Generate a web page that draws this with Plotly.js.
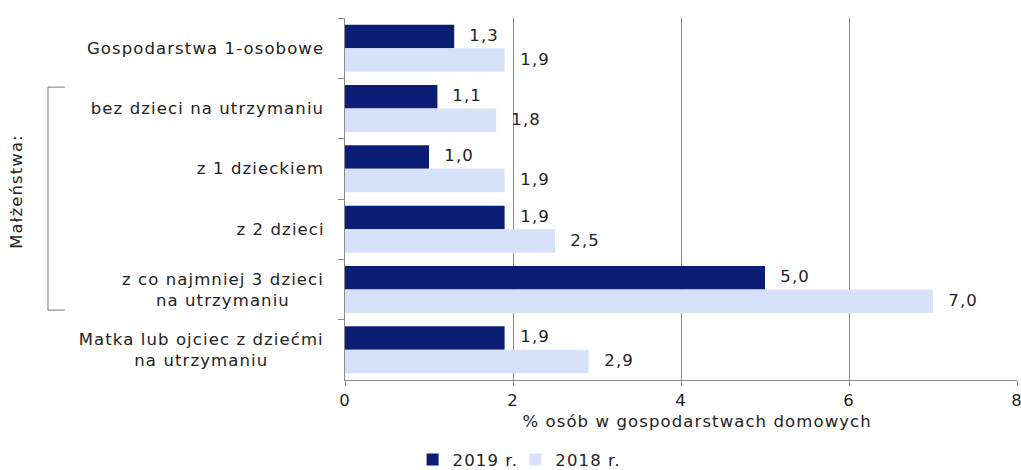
<!DOCTYPE html>
<html><head><meta charset="utf-8">
<script src="https://cdn.plot.ly/plotly-3.0.1.min.js"></script>
<style>body{margin:0;background:#fff}#c{width:1021px;height:470px}#c text{letter-spacing:1.1px}</style>
</head><body><div id="c"></div>
<script>
var categories = ["Gospodarstwa 1-osobowe","bez dzieci na utrzymaniu","z 1 dzieckiem","z 2 dzieci","z co najmniej 3 dzieci<br>na utrzymaniu","Matka lub ojciec z dziećmi<br>na utrzymaniu"];
var catKeys = ["c1","c2","c3","c4","c5","c6"];
var v2019 = [1.3,1.1,1.0,1.9,5.0,1.9];
var v2018 = [1.9,1.8,1.9,2.5,7.0,2.9];
var seriesNames = ["2019 r.","2018 r."];
var xTicks = [0,2,4,6,8];
var groupLabel = "Małżeństwa:";
var xTitle = "% osób w gospodarstwach domowych";

var FONT = "DejaVu Sans, sans-serif";
var FS = 16.5;
var LS = 1.1;
var fmt = function(v){return v.toFixed(1).replace(".",",");};
// letter-spacing is not measured by Plotly; compensate the centred overflow
var overflow = function(s){var m=0;s.split("<br>").forEach(function(l){m=Math.max(m,l.length);});return m*LS/2-LS;};

var t1 = {type:"bar",orientation:"h",name:seriesNames[0],y:catKeys,x:v2019,marker:{color:"#0b1d75"},hoverinfo:"x"};
var t2 = {type:"bar",orientation:"h",name:seriesNames[1],y:catKeys,x:v2018,marker:{color:"#d8e1fa"},hoverinfo:"x"};

var ann = [];
categories.forEach(function(c,i){
  ann.push({xref:"paper",yref:"y",x:0,y:catKeys[i],text:c,showarrow:false,xanchor:"right",xshift:-20-overflow(c),align:"center",font:{family:FONT,size:FS,color:"#222"}});
});
v2019.forEach(function(v,i){
  ann.push({xref:"x",yref:"y",x:v,y:catKeys[i],text:fmt(v),showarrow:false,xanchor:"left",xshift:15,yshift:13,font:{family:FONT,size:FS,color:"#222"}});
});
v2018.forEach(function(v,i){
  ann.push({xref:"x",yref:"y",x:v,y:catKeys[i],text:fmt(v),showarrow:false,xanchor:"left",xshift:15,yshift:-11,font:{family:FONT,size:FS,color:"#222"}});
});
ann.push({xref:"paper",yref:"paper",x:-0.488,xanchor:"center",y:0.52,yanchor:"middle",text:groupLabel,textangle:-90,showarrow:false,font:{family:FONT,size:FS,color:"#222"}});
ann.push({xref:"paper",yref:"paper",x:0.524,xanchor:"center",y:-0.115,yanchor:"middle",text:xTitle,showarrow:false,font:{family:FONT,size:FS,color:"#222"}});

var shapes = [
  {type:"line",xref:"paper",yref:"paper",x0:-0.442,x1:-0.442,y0:0.809,y1:0.193,line:{color:"#777",width:1}},
  {type:"line",xref:"paper",yref:"paper",x0:-0.442,x1:-0.417,y0:0.809,y1:0.809,line:{color:"#777",width:1}},
  {type:"line",xref:"paper",yref:"paper",x0:-0.442,x1:-0.417,y0:0.193,y1:0.193,line:{color:"#777",width:1}}
];

var layout = {
  width:1021,height:470,
  margin:{l:345,r:4,t:18,b:90},
  paper_bgcolor:"#fff",plot_bgcolor:"#fff",
  barmode:"group",bargap:0.22,bargroupgap:0,
  font:{family:FONT,size:FS,color:"#222"},
  xaxis:{range:[0,8],tickvals:xTicks,ticktext:xTicks.map(String),showgrid:true,gridcolor:"#8a8a8a",gridwidth:1,
    zeroline:false,showline:true,linecolor:"#8a8a8a",ticks:"outside",ticklen:5,tickcolor:"#8a8a8a",
    automargin:false,ticklabeloverflow:"allow",
    tickfont:{family:FONT,size:FS,color:"#222"}},
  yaxis:{type:"category",autorange:"reversed",showticklabels:false,showline:true,linecolor:"#8a8a8a",
    ticks:"outside",tickson:"boundaries",ticklen:6,tickcolor:"#8a8a8a",showgrid:false,automargin:false},
  showlegend:true,
  legend:{orientation:"h",xref:"container",yref:"container",x:0.505,xanchor:"center",y:0.022,yanchor:"middle",
    font:{family:FONT,size:FS,color:"#222"},traceorder:"normal"},
  annotations:ann,shapes:shapes
};
Plotly.newPlot("c",[t1,t2],layout,{displayModeBar:false,staticPlot:true});
</script></body></html>
